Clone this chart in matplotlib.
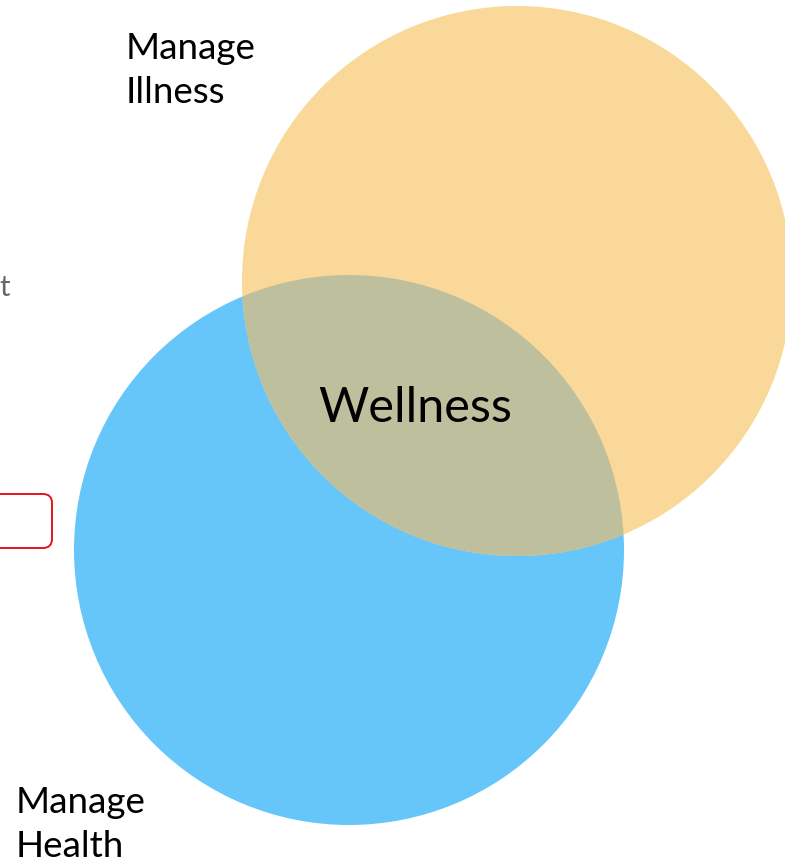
import matplotlib.pyplot as plt
from matplotlib.patches import Circle, FancyBboxPatch

# ----- data (pixel space of the original slide crop) -----
set_names = ["Manage\nIllness", "Manage\nHealth"]
centre_x = [517, 349]
centre_y = [281, 550]
radius = [275, 275]
fill_colours = ["#F9D899", "#66C6F9"]
label_x = [126, 16]
label_y = [32, 786]
overlap_label = "Wellness"
overlap_colour = "#BEBF9D"

plt.rcParams["font.family"] = ["Lato", "DejaVu Sans"]

fig = plt.figure(figsize=(7.85, 8.61), dpi=100)
ax = fig.add_axes([0, 0, 1, 1])
ax.set_xlim(0, 785)
ax.set_ylim(861, 0)
ax.set_aspect("auto")
ax.axis("off")

# blue first, then orange, then the shared lens clipped to both
blue = Circle((centre_x[1], centre_y[1]), radius[1], facecolor=fill_colours[1],
              edgecolor="none", zorder=1)
orange = Circle((centre_x[0], centre_y[0]), radius[0], facecolor=fill_colours[0],
                edgecolor="none", zorder=2)
ax.add_patch(blue)
ax.add_patch(orange)

lens = Circle((centre_x[0], centre_y[0]), radius[0], facecolor=overlap_colour,
              edgecolor="none", zorder=3)
ax.add_patch(lens)
clip = Circle((centre_x[1], centre_y[1]), radius[1], transform=ax.transData)
lens.set_clip_path(clip)

for name, x, y in zip(set_names, label_x, label_y):
    ax.text(x, y, name, ha="left", va="top", fontsize=26.5,
            color="#000000", linespacing=1.42, zorder=5)

ax.text(415, 408, overlap_label, ha="center", va="center", fontsize=35,
        color="#000000", zorder=5)

# slide fragments cut off at the left edge
ax.text(10, 288, "t", ha="right", va="center", fontsize=21, color="#666666")
ax.add_patch(FancyBboxPatch((-40, 494), 92, 54,
                            boxstyle="round,pad=0,rounding_size=9",
                            facecolor="none", edgecolor="#E8141B", linewidth=1.4))

fig.savefig("out.png", dpi=100)
